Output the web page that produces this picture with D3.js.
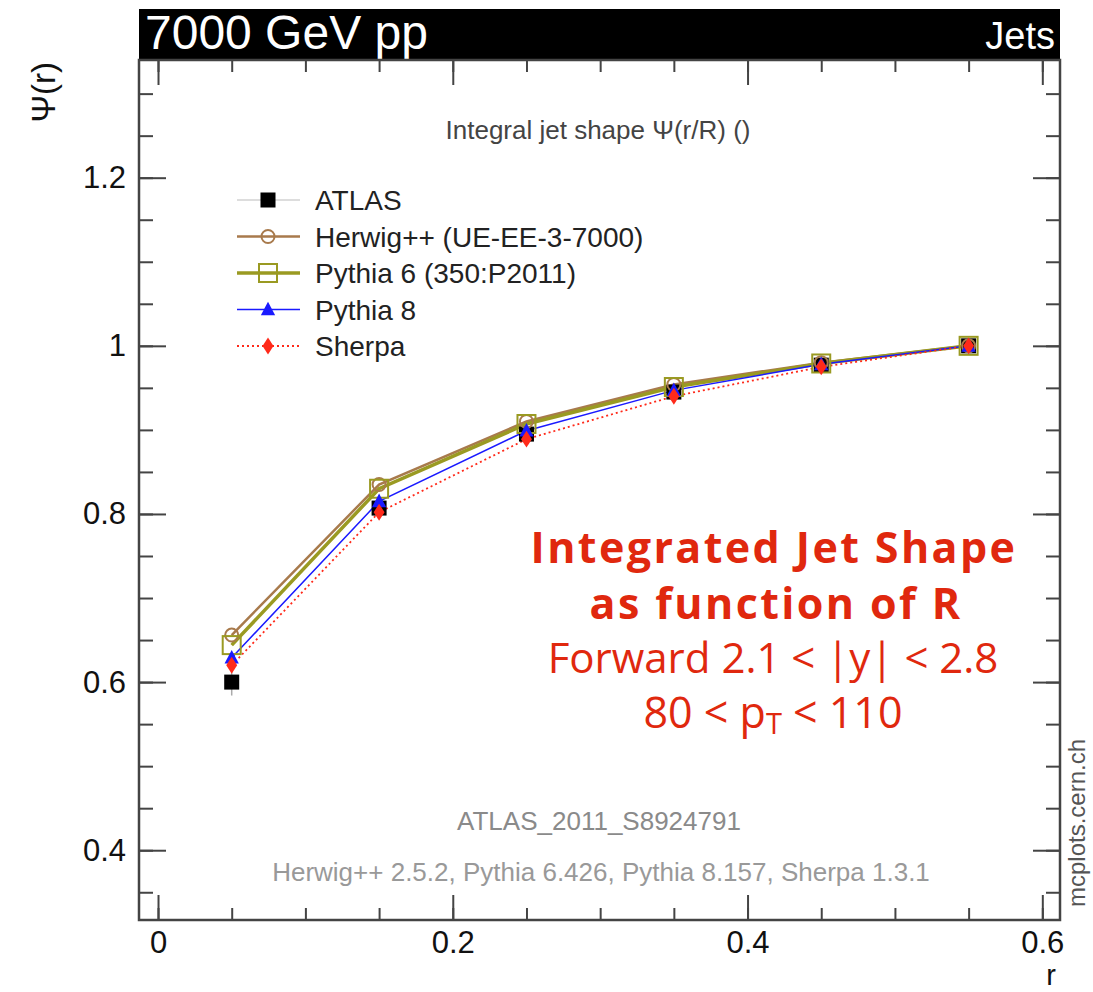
<!DOCTYPE html>
<html lang="en">
<head>
<meta charset="UTF-8">
<title>Integral jet shape</title>
<style>
  body { margin: 0; background: #fff; }
  svg text { font-family: "Liberation Sans", Arial, sans-serif; }
  svg text.note { font-family: "Open Sans", Lato, sans-serif; }
</style>
</head>
<body>
<div id="graph"></div>
<script src="https://cdnjs.cloudflare.com/ajax/libs/d3/7.8.5/d3.min.js"></script>
<script>
    // data
    const rValues = [0.05, 0.15, 0.25, 0.35, 0.45, 0.55];
    const atlas = [0.600, 0.807, 0.895, 0.945, 0.977, 1.000];
    const atlasErr = [0.016, 0.008, 0.005, 0.004, 0.002, 0.0];
    const herwig = [0.656, 0.835, 0.910, 0.954, 0.980, 1.000];
    const pythia6 = [0.644, 0.830, 0.907, 0.951, 0.979, 1.000];
    const pythia8 = [0.629, 0.815, 0.899, 0.947, 0.978, 1.000];
    const sherpa = [0.620, 0.802, 0.889, 0.940, 0.975, 1.000];

    const legendLabels = ["ATLAS", "Herwig++ (UE-EE-3-7000)", "Pythia 6 (350:P2011)", "Pythia 8", "Sherpa"];
    const xTickLabels = [0, 0.2, 0.4, 0.6];
    const yTickLabels = [0.4, 0.6, 0.8, 1, 1.2];

    //config
    const W = 1093, H = 992;
    const pLeft = 139, pRight = 1060, pTop = 60, pBottom = 920;

    const svg = d3.select("#graph").append("svg")
        .attr("width", W).attr("height", H);

    const x = d3.scaleLinear().domain([-0.0129, 0.612]).range([pLeft, pRight]);
    const y = d3.scaleLinear().domain([0.317, 1.340]).range([pBottom, pTop]);

    // header bar
    svg.append("rect").attr("x", pLeft).attr("y", 9).attr("width", pRight - pLeft).attr("height", pTop - 9)
        .attr("fill", "#000");
    svg.append("text").attr("x", pLeft + 6).attr("y", 49).attr("fill", "#fff")
        .attr("font-size", 48).text("7000 GeV pp");
    svg.append("text").attr("x", pRight - 5).attr("y", 49).attr("fill", "#fff")
        .attr("text-anchor", "end").attr("font-size", 38).text("Jets");

    // axes: major + minor ticks pointing inside
    const xMinor = d3.range(0, 0.6001, 0.05);
    const yMinor = d3.range(0.35, 1.3001, 0.05);

    function styleAxis(g) {
        g.select(".domain").remove();
        g.selectAll("line").attr("stroke", "#444").attr("stroke-width", 2);
        g.selectAll("text").attr("fill", "#111").attr("font-family", "Liberation Sans, Arial, sans-serif");
    }

    svg.append("g").attr("transform", `translate(0,${pBottom})`)
        .call(d3.axisBottom(x).tickValues(xMinor).tickSize(-12).tickFormat(""))
        .call(styleAxis);
    svg.append("g").attr("transform", `translate(0,${pBottom})`)
        .call(d3.axisBottom(x).tickValues(xTickLabels).tickSize(-25).tickPadding(11).tickFormat(d3.format("~g")))
        .call(styleAxis)
        .selectAll("text").attr("font-size", 31).attr("dy", "0.71em");
    svg.append("g").attr("transform", `translate(0,${pTop})`)
        .call(d3.axisTop(x).tickValues(xMinor).tickSize(-12).tickFormat(""))
        .call(styleAxis);
    svg.append("g").attr("transform", `translate(0,${pTop})`)
        .call(d3.axisTop(x).tickValues(xTickLabels).tickSize(-25).tickFormat(""))
        .call(styleAxis);

    svg.append("g").attr("transform", `translate(${pLeft},0)`)
        .call(d3.axisLeft(y).tickValues(yMinor).tickSize(-14).tickFormat(""))
        .call(styleAxis);
    svg.append("g").attr("transform", `translate(${pLeft},0)`)
        .call(d3.axisLeft(y).tickValues(yTickLabels).tickSize(-27).tickPadding(13).tickFormat(d3.format("~g")))
        .call(styleAxis)
        .selectAll("text").attr("font-size", 31);
    svg.append("g").attr("transform", `translate(${pRight},0)`)
        .call(d3.axisRight(y).tickValues(yMinor).tickSize(-14).tickFormat(""))
        .call(styleAxis);
    svg.append("g").attr("transform", `translate(${pRight},0)`)
        .call(d3.axisRight(y).tickValues(yTickLabels).tickSize(-27).tickFormat(""))
        .call(styleAxis);

    // frame
    svg.append("rect").attr("x", pLeft).attr("y", pTop).attr("width", pRight - pLeft).attr("height", pBottom - pTop)
        .attr("fill", "none").attr("stroke", "#444").attr("stroke-width", 2.5);

    // axis titles
    svg.append("text").attr("transform", "translate(55,62) rotate(-90)")
        .attr("text-anchor", "end").attr("font-size", 33).attr("fill", "#111").text("Ψ(r)");
    svg.append("text").attr("x", 1051).attr("y", 985).attr("text-anchor", "middle")
        .attr("font-size", 29).attr("fill", "#111").text("r");

    // plot texts
    svg.append("text").attr("x", 598).attr("y", 139).attr("text-anchor", "middle")
        .attr("font-size", 26).attr("fill", "#444").text("Integral jet shape Ψ(r/R) ()");
    svg.append("text").attr("x", 599).attr("y", 830).attr("text-anchor", "middle")
        .attr("font-size", 26).attr("fill", "#8a8a8a").text("ATLAS_2011_S8924791");
    svg.append("text").attr("x", 601).attr("y", 881).attr("text-anchor", "middle")
        .attr("font-size", 26).attr("fill", "#999").text("Herwig++ 2.5.2, Pythia 6.426, Pythia 8.157, Sherpa 1.3.1");
    svg.append("text").attr("transform", "translate(1085,907) rotate(-90)")
        .attr("font-size", 24).attr("fill", "#555").text("mcplots.cern.ch");

    // series definitions
    const series = [
        {name: legendLabels[0], values: atlas, color: "#000", line: false, marker: "square", size: 15},
        {name: legendLabels[1], values: herwig, color: "#a87a4c", width: 2.5, marker: "circle", size: 6.5},
        {name: legendLabels[2], values: pythia6, color: "#9a9a22", width: 3.5, marker: "osquare", size: 18},
        {name: legendLabels[3], values: pythia8, color: "#1a1aff", width: 1.5, marker: "triangle", size: 13},
        {name: legendLabels[4], values: sherpa, color: "#ff2a1a", width: 1.8, dash: "2,3", marker: "diamond", size: 13}
    ];

    const lineGen = d3.line().x((d, i) => x(rValues[i])).y(d => y(d));

    function drawMarker(g, s, cx, cy) {
        const sz = s.size;
        if (s.marker === "square") {
            g.append("rect").attr("x", cx - sz / 2).attr("y", cy - sz / 2).attr("width", sz).attr("height", sz)
                .attr("fill", s.color);
        } else if (s.marker === "osquare") {
            g.append("rect").attr("x", cx - sz / 2).attr("y", cy - sz / 2).attr("width", sz).attr("height", sz)
                .attr("fill", "none").attr("stroke", s.color).attr("stroke-width", 2);
        } else if (s.marker === "circle") {
            g.append("circle").attr("cx", cx).attr("cy", cy).attr("r", sz)
                .attr("fill", "none").attr("stroke", s.color).attr("stroke-width", 2);
        } else if (s.marker === "triangle") {
            g.append("path").attr("d", `M${cx},${cy - sz * 0.6}L${cx + sz * 0.55},${cy + sz * 0.45}L${cx - sz * 0.55},${cy + sz * 0.45}Z`)
                .attr("fill", s.color);
        } else if (s.marker === "diamond") {
            g.append("path").attr("d", `M${cx},${cy - sz * 0.65}L${cx + sz * 0.42},${cy}L${cx},${cy + sz * 0.65}L${cx - sz * 0.42},${cy}Z`)
                .attr("fill", s.color);
        }
    }

    const plot = svg.append("g");
    // draw MC lines first (herwig at back), then markers, data on top
    [1, 2, 3, 4].forEach(k => {
        const s = series[k];
        plot.append("path").datum(s.values).attr("d", lineGen)
            .attr("fill", "none").attr("stroke", s.color).attr("stroke-width", s.width)
            .attr("stroke-dasharray", s.dash || null);
    });
    // ATLAS error bars
    atlas.forEach((v, i) => {
        plot.append("line").attr("x1", x(rValues[i])).attr("x2", x(rValues[i]))
            .attr("y1", y(v - atlasErr[i])).attr("y2", y(v + atlasErr[i]))
            .attr("stroke", "#aaa").attr("stroke-width", 1.5);
    });
    [0, 1, 2, 3, 4].forEach(k => {
        const s = series[k];
        s.values.forEach((v, i) => drawMarker(plot, s, x(rValues[i]), y(v)));
    });

    // legend
    const legend = svg.append("g");
    series.forEach((s, i) => {
        const ly = 200 + i * 36.5;
        legend.append("line").attr("x1", 237).attr("x2", 300).attr("y1", ly).attr("y2", ly)
            .attr("stroke", s.line === false ? "#bbb" : s.color)
            .attr("stroke-width", s.line === false ? 1.2 : s.width)
            .attr("stroke-dasharray", s.dash || null);
        drawMarker(legend, s, 268, ly);
        legend.append("text").attr("x", 315).attr("y", ly + 10).attr("font-size", 28).attr("fill", "#222")
            .text(s.name);
    });

    // red annotation
    const note = svg.append("g").attr("fill", "#e0280e").attr("text-anchor", "middle");
    note.append("text").attr("class", "note").attr("x", 774).attr("y", 563).attr("font-size", 43).attr("font-weight", "bold")
        .attr("letter-spacing", 2.4).text("Integrated Jet Shape");
    note.append("text").attr("class", "note").attr("x", 776).attr("y", 619).attr("font-size", 43).attr("font-weight", "bold")
        .attr("letter-spacing", 2.4).text("as function of R");
    note.append("text").attr("class", "note").attr("x", 773).attr("y", 673).attr("font-size", 42)
        .text("Forward 2.1 < |y| < 2.8");
    const pt = note.append("text").attr("class", "note").attr("x", 773).attr("y", 728).attr("font-size", 43);
    pt.append("tspan").text("80 < p");
    pt.append("tspan").attr("font-size", 29).attr("dy", 6).text("T");
    pt.append("tspan").attr("dy", -6).text(" < 110");
</script>
</body>
</html>
